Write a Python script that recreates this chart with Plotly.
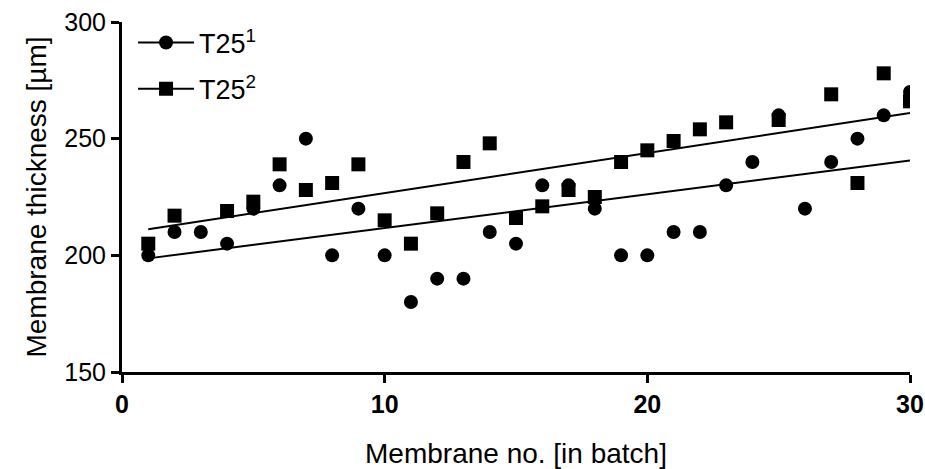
import numpy as np
import plotly.graph_objects as go

membrane_no = list(range(1, 31))
t25_1 = [200, 210, 210, 205, 220, 230, 250, 200, 220, 200,
         180, 190, 190, 210, 205, 230, 230, 220, 200, 200,
         210, 210, 230, 240, 260, 220, 240, 250, 260, 270]
t25_2 = [205, 217, None, 219, 223, 239, 228, 231, 239, 215,
         205, 218, 240, 248, 216, 221, 228, 225, 240, 245,
         249, 254, 257, None, 258, None, 269, 231, 278, 266]
series_names = ["T25<sup>1</sup>", "T25<sup>2</sup>"]
x_ticks = [0, 10, 20, 30]
y_ticks = [150, 200, 250, 300]

FONT = "Liberation Sans, Arial, sans-serif"
NARROW = "Liberation Sans Narrow, Arial Narrow, Liberation Sans, sans-serif"

fig = go.Figure()

def fit(xs, ys):
    pts = [(a, b) for a, b in zip(xs, ys) if b is not None]
    xa = np.array([p[0] for p in pts], float)
    ya = np.array([p[1] for p in pts], float)
    m, c = np.polyfit(xa, ya, 1)
    xl = np.array([min(xs), max(xs)], float)
    return xl, m * xl + c

for ys in (t25_1, t25_2):
    xl, yl = fit(membrane_no, ys)
    fig.add_trace(go.Scatter(x=xl, y=yl, mode="lines", line=dict(color="black", width=2),
                             showlegend=False, hoverinfo="skip"))

fig.add_trace(go.Scatter(x=membrane_no, y=t25_2, mode="markers",
                         marker=dict(symbol="square", size=14, color="black"),
                         showlegend=False))
fig.add_trace(go.Scatter(x=membrane_no, y=t25_1, mode="markers",
                         marker=dict(symbol="circle", size=14, color="black"),
                         showlegend=False))

# legend entries
for name, sym, grp in ((series_names[0], "circle", "a"), (series_names[1], "square", "b")):
    fig.add_trace(go.Scatter(x=[None], y=[None], mode="lines+markers", name=name,
                             legendgroup=grp,
                             line=dict(color="black", width=2),
                             marker=dict(symbol=sym, size=14, color="black")))

fig.update_layout(
    width=925, height=469,
    margin=dict(l=122, r=15, t=22, b=97),
    plot_bgcolor="white", paper_bgcolor="white",
    font=dict(family=FONT, size=25, color="black"),
    legend=dict(x=0.014, y=1.01, xanchor="left", yanchor="top",
                bgcolor="rgba(0,0,0,0)", tracegroupgap=8,
                font=dict(size=27, family=FONT), itemwidth=56),
    xaxis=dict(range=[0, 30], tickvals=x_ticks, ticks="outside", ticklen=8, tickwidth=3,
               tickcolor="black", showline=True, linewidth=3, linecolor="black",
               showgrid=False, zeroline=False, automargin=False,
               tickfont=dict(family=NARROW, size=25, weight="bold"),
               title=dict(text="Membrane no. [in batch]", font=dict(size=28), standoff=28)),
    yaxis=dict(range=[150, 300], tickvals=y_ticks, ticks="outside", ticklen=8, tickwidth=3,
               tickcolor="black", showline=True, linewidth=3, linecolor="black",
               showgrid=False, zeroline=False, automargin=False,
               tickfont=dict(family=FONT, size=25),
               title=dict(text="Membrane thickness [µm]", font=dict(size=28), standoff=10)),
)

fig.write_html("out.html")
